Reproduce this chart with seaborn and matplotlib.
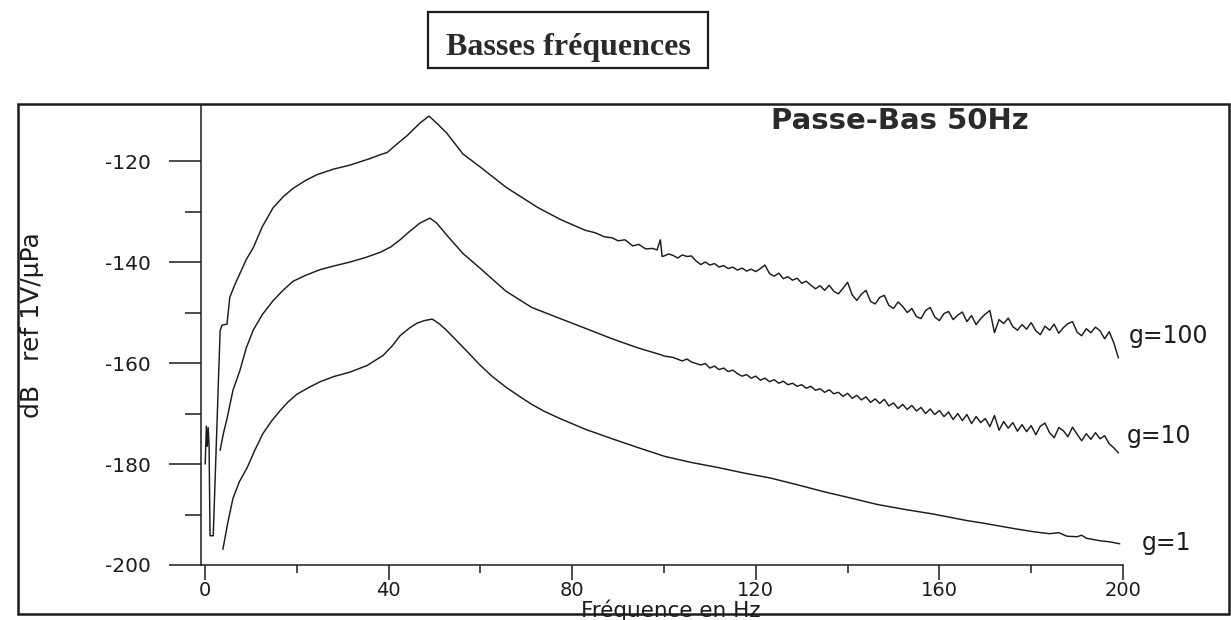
import matplotlib
matplotlib.use("Agg")
import matplotlib.pyplot as plt
import numpy as np
import pandas as pd
import seaborn as sns
from matplotlib.patches import Rectangle

# ---------------- data ----------------
freq_g100 = [0.05, 0.3, 0.5, 0.7, 0.9, 1.0, 1.1, 1.8, 2.5, 3.3, 3.7, 4.8, 5.4, 6.5, 7.6, 9.0,
             10.5, 12.5, 14.8, 17.0, 19.2, 22.0, 24.4, 28.0, 31.6, 34.0, 36.0, 38.0, 39.7,
             42.0, 44.0, 46.8, 48.8, 50.5, 52.7, 56.2, 60.0, 65.6, 72.5, 77.5, 82.8, 85.0,
             87.0, 88.7, 90.0, 91.5, 93.2, 94.5, 96.0, 97.5, 98.5, 99.2, 99.6,
             100, 101, 102, 103, 104, 105, 106, 107, 108, 109, 110, 111, 112, 113, 114, 115,
             116, 117, 118, 119, 120, 121, 122, 123, 124, 125, 126, 127, 128, 129, 130, 131,
             132, 133, 134, 135, 136, 137, 138, 139, 140, 141, 142, 143, 144, 145, 146, 147,
             148, 149, 150, 151, 152, 153, 154, 155, 156, 157, 158, 159, 160, 161, 162, 163,
             164, 165, 166, 167, 168, 169, 170, 171, 172, 173, 174, 175, 176, 177, 178, 179,
             180, 181, 182, 183, 184, 185, 186, 187, 188, 189, 190, 191, 192, 193, 194, 195,
             196, 197, 198, 199]
db_g100 = [-180.0, -172.5, -176.5, -172.8, -176.5, -185.0, -194.2, -194.2, -175.0, -153.6,
           -152.5, -152.3, -147.0, -144.5, -142.3, -139.5, -137.2, -133.0, -129.3, -127.1,
           -125.4, -123.8, -122.7, -121.6, -120.8, -120.1, -119.5, -118.8, -118.3, -116.5,
           -115.0, -112.5, -111.1, -112.5, -114.5, -118.6, -121.2, -125.2, -129.2, -131.6,
           -133.7, -134.2, -135.0, -135.2, -135.8, -135.6, -136.8, -136.5, -137.4, -137.3,
           -137.6, -135.6, -138.9,
           -138.8, -138.4, -138.7, -139.2, -138.6, -138.9, -138.8, -139.8, -140.5, -140.0,
           -140.6, -140.3, -141.0, -140.7, -141.3, -141.0, -141.6, -141.2, -141.8, -141.4,
           -141.9, -141.3, -140.6, -142.3, -142.8, -142.2, -143.3, -142.9, -143.6, -143.2,
           -144.2, -143.8, -144.6, -145.3, -144.7, -145.6, -144.6, -145.8, -146.3, -145.2,
           -144.0, -146.5, -147.6, -146.4, -145.6, -147.8, -148.3, -147.0, -146.6, -148.6,
           -149.2, -147.9, -148.8, -150.0, -149.2, -150.8, -151.2, -149.6, -149.0, -150.9,
           -151.6, -150.2, -149.8, -151.4, -150.5, -149.9, -151.8, -150.6, -152.4, -151.2,
           -150.3, -149.6, -154.0, -151.4, -152.2, -151.1, -152.8, -153.5, -152.4, -153.3,
           -152.0, -153.6, -154.4, -152.7, -153.5, -152.3, -154.1, -153.0, -152.2, -151.8,
           -153.9, -154.6, -153.2, -154.0, -152.9, -153.6, -155.2, -153.8, -156.0, -159.0]

freq_g10 = [3.3, 4.0, 4.8, 6.1, 7.6, 9.0, 10.5, 12.5, 14.8, 17.0, 19.2, 22.0, 25.1, 28.0,
            31.6, 35.0, 38.1, 40.5, 42.5, 44.5, 46.8, 49.0, 50.5, 52.7, 56.2, 59.9, 65.6,
            71.2, 77.1, 82.8, 88.7, 94.3, 99.1,
            100, 102, 104, 105, 106, 108, 109, 110, 111, 112, 113, 114, 115, 116, 117, 118,
            119, 120, 121, 122, 123, 124, 125, 126, 127, 128, 129, 130, 131, 132, 133, 134,
            135, 136, 137, 138, 139, 140, 141, 142, 143, 144, 145, 146, 147, 148, 149, 150,
            151, 152, 153, 154, 155, 156, 157, 158, 159, 160, 161, 162, 163, 164, 165, 166,
            167, 168, 169, 170, 171, 172, 173, 174, 175, 176, 177, 178, 179, 180, 181, 182,
            183, 184, 185, 186, 187, 188, 189, 190, 191, 192, 193, 194, 195, 196, 197, 198, 199]
db_g10 = [-177.3, -174.0, -171.0, -165.4, -161.5, -157.0, -153.5, -150.4, -147.7, -145.6,
          -143.8, -142.6, -141.5, -140.8, -140.0, -139.1, -138.1, -137.0, -135.6, -134.0,
          -132.3, -131.3, -132.3, -134.7, -138.3, -141.2, -145.8, -149.0, -151.1, -153.1,
          -155.2, -157.0, -158.3,
          -158.6, -158.9, -159.6, -159.2, -159.8, -160.4, -160.1, -161.0, -160.6, -161.3,
          -161.0, -161.7, -161.4, -162.1, -162.6, -162.3, -163.0, -162.6, -163.4, -163.0,
          -163.7, -163.3, -164.0, -163.6, -164.3, -164.0, -164.6, -164.3, -165.0, -164.6,
          -165.4, -165.1, -165.8, -165.3, -166.1, -165.8, -166.6, -166.0, -167.0, -166.4,
          -167.3, -166.7, -167.8, -167.1, -168.0, -167.2, -168.5, -167.9, -169.0, -168.2,
          -169.2, -168.4, -169.5, -168.8, -170.0, -169.1, -170.2, -169.4, -170.6, -169.7,
          -171.2, -170.0, -171.4, -170.2, -172.0, -170.6, -171.8, -171.0, -172.6, -170.4,
          -173.3, -171.6, -172.9, -171.8, -173.5, -172.2, -173.6, -172.4, -174.2, -172.5,
          -171.9, -173.8, -174.8, -172.8, -173.4, -174.6, -172.7, -174.1, -175.4, -174.0,
          -175.1, -173.8, -175.0, -174.4, -176.0, -176.8, -177.8]

freq_g1 = [3.9, 5.0, 6.1, 7.5, 9.2, 10.9, 12.6, 14.5, 16.3, 18.0, 20.0, 22.5, 25.1, 28.0,
           31.6, 35.3, 38.8, 40.8, 42.5, 44.5, 46.2, 47.8, 49.5, 51.0, 52.5, 54.0, 57.0,
           59.7, 62.5, 65.6, 68.5, 71.2, 74.0, 77.1, 82.8, 88.7, 94.5, 100.2, 106.0, 111.8,
           117.5, 123.3, 129.0, 134.9, 140.5, 146.4, 152.5, 158.6, 162.0, 166.0, 169.5,
           173.2, 177.0, 180.4, 184.0, 186.0, 187.8, 190.0, 191.0, 192.0, 195.0, 197.0, 199.3]
db_g1 = [-196.9, -191.5, -186.8, -183.5, -180.7, -177.2, -174.0, -171.5, -169.5, -167.8,
         -166.2, -164.9, -163.7, -162.7, -161.8, -160.5, -158.5, -156.6, -154.6, -153.1,
         -152.1, -151.6, -151.3, -152.2, -153.4, -154.8, -157.6, -160.2, -162.6, -164.8,
         -166.6, -168.2, -169.6, -170.9, -173.1, -175.0, -176.8, -178.5, -179.7, -180.7,
         -181.8, -182.8, -184.1, -185.5, -186.7, -188.0, -189.0, -189.9, -190.5, -191.2,
         -191.7, -192.3, -192.9, -193.4, -193.8, -193.6, -194.3, -194.4, -194.1, -194.7,
         -195.2, -195.4, -195.8]

series_names = ["g=100", "g=10", "g=1"]
label_pos_x = [201.3, 200.9, 204.1]
label_pos_y = [-154.7, -174.4, -195.7]

x_major = [0, 40, 80, 120, 160, 200]
x_minor = [20, 60, 100, 140, 180]
y_major = [-200, -180, -160, -140, -120]
y_minor = [-190, -170, -150, -130]

title_text = "Basses fréquences"
inner_title = "Passe-Bas 50Hz"
x_label = "Fréquence en Hz"
y_label = "dB   ref 1V/µPa"

# ---------------- figure ----------------
sns.set_theme(style="ticks")
plt.rcParams["font.family"] = ["DejaVu Sans"]
plt.rcParams["axes.unicode_minus"] = False

ink = "#1c1c1c"
W, H = 1231, 620
fig = plt.figure(figsize=(W / 100, H / 100), dpi=100)
fig.patch.set_facecolor("white")

ax = fig.add_axes([201.3 / W, (H - 565) / H, (1123 - 201.3) / W, (565 - 105.5) / H])
ax.set_facecolor("white")

frames = [
    pd.DataFrame({"f": freq_g100, "db": db_g100}),
    pd.DataFrame({"f": freq_g10, "db": db_g10}),
    pd.DataFrame({"f": freq_g1, "db": db_g1}),
]
for df in frames:
    sns.lineplot(data=df, x="f", y="db", ax=ax, color=ink, linewidth=1.05,
                 estimator=None, sort=False, legend=False)

ax.set_xlim(-0.8, 200)
ax.set_ylim(-200, -109)

for side in ["top", "right"]:
    ax.spines[side].set_visible(False)
for side in ["left", "bottom"]:
    ax.spines[side].set_linewidth(1.1)
    ax.spines[side].set_color(ink)

ax.set_xticks(x_major)
ax.set_xticks(x_minor, minor=True)
ax.set_yticks(y_major)
ax.set_yticks(y_minor, minor=True)
ax.tick_params(axis="y", which="major", direction="out", length=23, width=1.1,
               pad=13.5, labelsize=14.5, colors=ink)
ax.tick_params(axis="y", which="minor", direction="out", length=11.5, width=1.1, colors=ink)
ax.tick_params(axis="x", which="major", direction="out", length=11, width=1.1,
               pad=0.5, labelsize=14, colors=ink)
ax.tick_params(axis="x", which="minor", direction="out", length=5.8, width=1.1, colors=ink)
ax.grid(False)

ax.set_xlabel(x_label, fontsize=15.5, color=ink)
ax.xaxis.set_label_coords(0.5096, -0.0755)
ax.set_ylabel(y_label, fontsize=18, color=ink)
ax.yaxis.set_label_coords(-0.171, 0.522)

for name, lx, ly in zip(series_names, label_pos_x, label_pos_y):
    ax.text(lx, ly, name, fontsize=17, ha="left", va="center", color=ink, clip_on=False)

fig.text(900 / W, 1 - 129 / H, inner_title, fontsize=21, fontweight="bold",
         ha="center", va="baseline", color="#2a2a2a")

# title box
fig.text(568 / W, 1 - 55 / H, title_text, fontsize=23, ha="center", va="baseline",
         fontfamily="Liberation Serif", fontweight="bold", color="#2a2a2a")
fig.add_artist(Rectangle((428 / W, 1 - 68 / H), 280 / W, 56 / H, transform=fig.transFigure,
                         fill=False, lw=1.6, ec=ink))

# outer frame
fig.add_artist(Rectangle((18 / W, 1 - 614 / H), (1229 - 18) / W, (614 - 104) / H,
                         transform=fig.transFigure, fill=False, lw=1.8, ec=ink))

fig.savefig("out.png", dpi=100, facecolor="white")
